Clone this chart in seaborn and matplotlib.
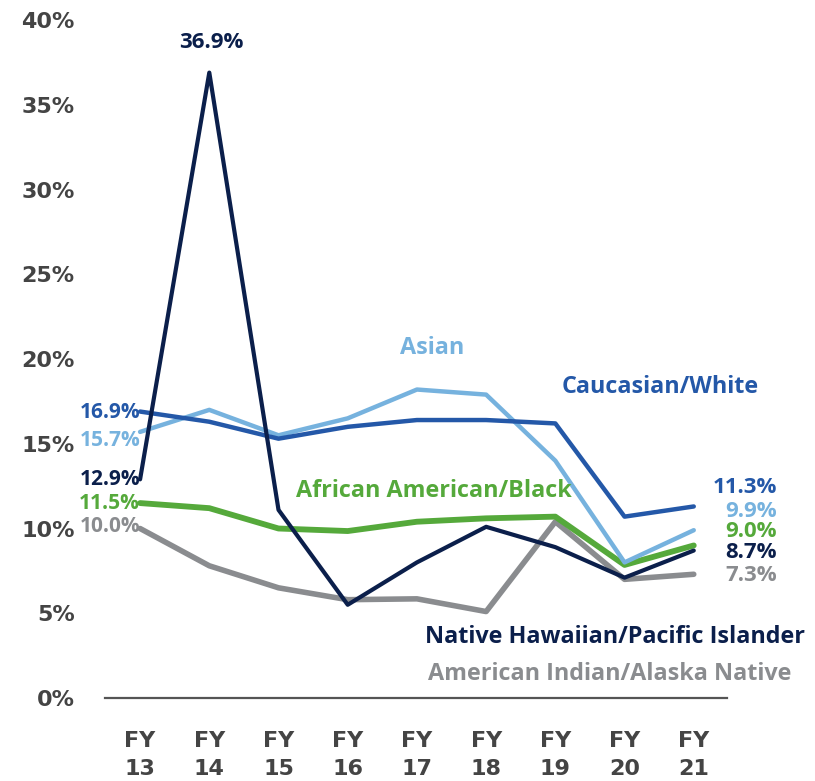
import matplotlib
matplotlib.use("Agg")
import matplotlib.pyplot as plt
import seaborn as sns
import pandas as pd

# values (percent)
years = ["FY\n13", "FY\n14", "FY\n15", "FY\n16", "FY\n17", "FY\n18", "FY\n19", "FY\n20", "FY\n21"]
native_hawaiian = [12.9, 36.9, 11.1, 5.5, 8.0, 10.1, 8.9, 7.1, 8.7]
caucasian = [16.9, 16.3, 15.3, 16.0, 16.4, 16.4, 16.2, 10.7, 11.3]
asian = [15.7, 17.0, 15.5, 16.5, 18.2, 17.9, 14.0, 8.0, 9.9]
african_american = [11.5, 11.2, 10.0, 9.85, 10.4, 10.6, 10.7, 7.85, 9.0]
american_indian = [10.0, 7.8, 6.5, 5.8, 5.85, 5.1, 10.4, 7.0, 7.3]

series_names = ["American Indian/Alaska Native", "African American/Black", "Asian",
                "Caucasian/White", "Native Hawaiian/Pacific Islander"]
series_values = [american_indian, african_american, asian, caucasian, native_hawaiian]
colors = {"Native Hawaiian/Pacific Islander": "#0b1f4b",
          "Caucasian/White": "#2458a8",
          "Asian": "#76b2de",
          "African American/Black": "#55a93b",
          "American Indian/Alaska Native": "#8a8c8f"}
widths = {"Native Hawaiian/Pacific Islander": 3.0,
          "Caucasian/White": 3.2,
          "Asian": 3.2,
          "African American/Black": 4.2,
          "American Indian/Alaska Native": 4.0}

rows = []
for name, vals in zip(series_names, series_values):
    for i, v in enumerate(vals):
        rows.append({"group": name, "x": i, "value": v})
df = pd.DataFrame(rows)

sns.set_style("white")
plt.rcParams['font.family'] = ['DejaVu Sans']

fig = plt.figure(figsize=(8.15, 7.81), dpi=100)
ax = fig.add_axes([0.129, 0.1063, 0.763, 0.868])

for name in series_names:
    sub = df[df.group == name]
    sns.lineplot(data=sub, x="x", y="value", color=colors[name],
                 linewidth=widths[name], ax=ax, legend=False)

ax.set_xlim(-0.505, 8.48)
ax.set_ylim(0, 40)
ax.set_xlabel("")
ax.set_ylabel("")
ax.set_yticks(range(0, 41, 5))
ax.set_yticklabels([f"{v}%" for v in range(0, 41, 5)], fontsize=16,
                   fontweight="bold", color="#444444")
ax.set_xticks(range(len(years)))
ax.set_xticklabels(years, fontsize=16, fontweight="bold", color="#444444",
                   family=["Liberation Sans Narrow", "DejaVu Sans"], linespacing=1.45)
ax.tick_params(axis="y", length=0, pad=22)
ax.tick_params(axis="x", length=0, pad=24)
for s in ["left", "top", "right"]:
    ax.spines[s].set_visible(False)
ax.spines["bottom"].set_color("#555555")
ax.spines["bottom"].set_linewidth(1.6)
ax.grid(False)

name_font = dict(fontsize=16.8, fontweight="bold", family=["Open Sans", "DejaVu Sans"])
val_font = dict(fontsize=16, fontweight="bold", family=["Open Sans", "DejaVu Sans"])
left_font = dict(fontsize=15, fontweight="bold", family=["Open Sans", "DejaVu Sans"])

# series names
ax.text(4.22, 20.65, "Asian", ha="center", va="center", color=colors["Asian"], **name_font)
ax.text(6.09, 18.35, "Caucasian/White", ha="left", va="center", color=colors["Caucasian/White"], **name_font)
ax.text(2.25, 12.2, "African American/Black", ha="left", va="center",
        color=colors["African American/Black"], **name_font)
ax.text(4.12, 3.6, "Native Hawaiian/Pacific Islander", ha="left", va="center",
        color=colors["Native Hawaiian/Pacific Islander"], **name_font)
ax.text(4.16, 1.42, "American Indian/Alaska Native", ha="left", va="center",
        color=colors["American Indian/Alaska Native"], **name_font)

# value labels
ax.text(1.03, 38.7, "36.9%", ha="center", va="center", color=colors["Native Hawaiian/Pacific Islander"], **val_font)
left_y = {"Caucasian/White": 16.87, "Asian": 15.2, "Native Hawaiian/Pacific Islander": 12.9,
          "African American/Black": 11.5, "American Indian/Alaska Native": 10.1}
right_y = {"Caucasian/White": 12.4, "Asian": 11.0, "African American/Black": 9.85,
           "Native Hawaiian/Pacific Islander": 8.6, "American Indian/Alaska Native": 7.2}
for name, vals in zip(series_names, series_values):
    ax.text(0.0, left_y[name], f"{vals[0]:.1f}%", ha="right", va="center", color=colors[name], **left_font)
    ax.text(9.2, right_y[name], f"{vals[-1]:.1f}%", ha="right", va="center", color=colors[name], **val_font)

fig.savefig("out.png", dpi=100)
